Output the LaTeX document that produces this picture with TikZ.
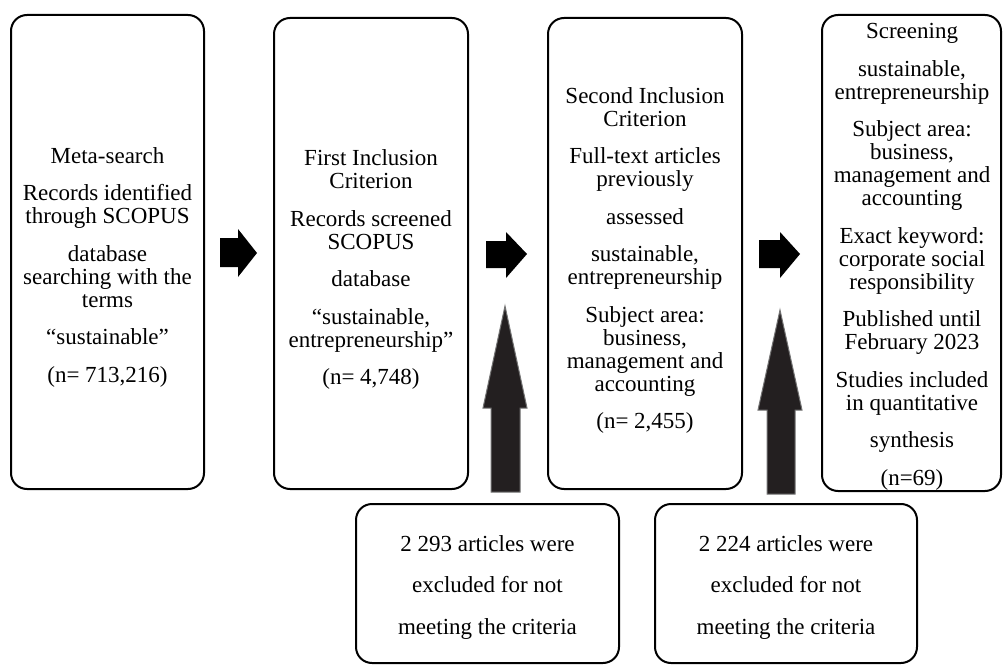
\documentclass[tikz,border=0pt]{standalone}
\usepackage{fontspec}
\setmainfont{Liberation Serif}
\definecolor{uparrowgray}{HTML}{231F20}
\tikzset{
  stagebox/.style={draw, line width=2pt, rounded corners=16pt, inner sep=0pt, fill=none},
  txt/.style={align=center, inner sep=0pt, font=\fontsize{23}{23}\selectfont},
  rarrow/.style={fill=black},
  uarrow/.style={fill=uparrowgray, draw=black!55, line width=1pt},
}
\begin{document}
\begin{tikzpicture}[x=1pt,y=-1pt]
\useasboundingbox (0,0) rectangle (1004,666);
% main stage boxes
\node[stagebox, minimum width=193pt, minimum height=474pt] (b1) at (107.5,252) {};
\node[stagebox, minimum width=194pt, minimum height=471pt] (b2) at (371,253.5) {};
\node[stagebox, minimum width=194pt, minimum height=471pt] (b3) at (645,253.5) {};
\node[stagebox, minimum width=179pt, minimum height=476pt] (b4) at (911.5,253) {};
\node[stagebox, minimum width=263pt, minimum height=159pt] (b5) at (487.5,583.5) {};
\node[stagebox, minimum width=262pt, minimum height=159pt] (b6) at (786,583.5) {};
% texts
\node[txt] (t1) at (107.5,267) {Meta-search\\[14.5pt]Records identified\\through SCOPUS\\[14.5pt]database\\searching with the\\terms\\[14.5pt]“sustainable”\\[14.5pt](n= 713,216)};
\node[txt] (t2) at (371,269.5) {First Inclusion\\Criterion\\[14.5pt]Records screened\\SCOPUS\\[14.5pt]database\\[14.5pt]“sustainable,\\entrepreneurship”\\[14.5pt](n= 4,748)};
\node[txt] (t3) at (645,260.5) {Second Inclusion\\Criterion\\[14.5pt]Full-text articles\\previously\\[14.5pt]assessed\\[14.5pt]sustainable,\\entrepreneurship\\[14.5pt]Subject area:\\business,\\management and\\accounting\\[14.5pt](n= 2,455)};
\node[txt] (t4) at (912,257) {Screening\\[14.5pt]sustainable,\\entrepreneurship\\[14.5pt]Subject area:\\business,\\management and\\accounting\\[14.5pt]Exact keyword:\\corporate social\\responsibility\\[14.5pt]Published until\\February 2023\\[14.5pt]Studies included\\in quantitative\\[14.5pt]synthesis\\[14.5pt](n=69)};
\node[txt] (t5) at (487.5,587) {2 293 articles were\\[18.5pt]excluded for not\\[18.5pt]meeting the criteria};
\node[txt] (t6) at (786,587) {2 224 articles were\\[18.5pt]excluded for not\\[18.5pt]meeting the criteria};
% right block arrows between stages
\fill[rarrow] (220,238) -- (238,238) -- (238,229) -- (257,253) -- (238,277) -- (238,267) -- (220,267) -- cycle;
\fill[rarrow] (486,241) -- (506,241) -- (506,232) -- (527,254) -- (506,278) -- (506,268) -- (486,268) -- cycle;
\fill[rarrow] (759,240) -- (780,240) -- (780,232) -- (800,254) -- (780,278) -- (780,268) -- (759,268) -- cycle;
% upward block arrows from exclusion boxes
\filldraw[uarrow] (491,492) -- (491,408) -- (483,408) -- (505,306) -- (527,408) -- (520,408) -- (520,492) -- cycle;
\filldraw[uarrow] (767,494) -- (767,410) -- (758,410) -- (780,310) -- (802,410) -- (795,410) -- (795,494) -- cycle;
\end{tikzpicture}
\end{document}
